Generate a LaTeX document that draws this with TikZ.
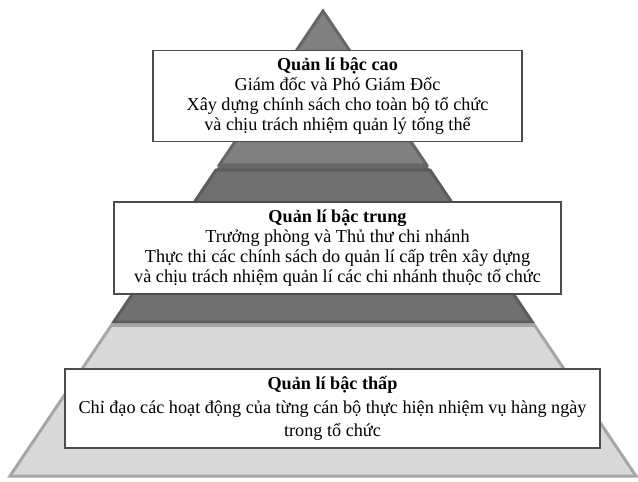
\documentclass[tikz,border=0pt]{standalone}
\usepackage{fontspec}
\setmainfont{Liberation Serif}
\usetikzlibrary{calc}
\definecolor{segtop}{HTML}{808080}
\definecolor{segtopline}{HTML}{666666}
\definecolor{segmid}{HTML}{707070}
\definecolor{segmidline}{HTML}{5C5C5C}
\definecolor{seglow}{HTML}{D9D9D9}
\definecolor{seglowline}{HTML}{A6A6A6}

\begin{document}
\begin{tikzpicture}[
  x=1pt,y=-1pt,
  font=\fontsize{18.2}{20}\selectfont,
  segment/.style={line width=3pt,line join=miter},
  level/.style={draw=black!70,fill=white,line width=1.4pt,
                align=center,inner sep=0pt}
]
\useasboundingbox (0,0) rectangle (638,482);
\coordinate (apex) at (323,11);
\coordinate (bl) at (10,476);
\coordinate (br) at (636,476);

% pyramid segments
\fill[segtopline] ($(apex)!0.320!(bl)$) -- ($(apex)!0.320!(br)$)
  -- ($(apex)!0.352!(br)$) -- ($(apex)!0.352!(bl)$) -- cycle;
\filldraw[segment,fill=segtop,draw=segtopline] (apex)
  -- ($(apex)!0.331!(br)$) -- ($(apex)!0.331!(bl)$) -- cycle;
\filldraw[segment,fill=segmid,draw=segmidline] ($(apex)!0.342!(bl)$)
  -- ($(apex)!0.342!(br)$) -- ($(apex)!0.669!(br)$)
  -- ($(apex)!0.669!(bl)$) -- cycle;
\filldraw[segment,fill=seglow,draw=seglowline] ($(apex)!0.676!(bl)$)
  -- ($(apex)!0.676!(br)$) -- (br) -- (bl) -- cycle;

% level boxes
\node[level,minimum width=369pt,minimum height=91pt] (high) at (337.5,96)
  {\textbf{Quản lí bậc cao}\\
   Giám đốc và Phó Giám Đốc\\
   Xây dựng chính sách cho toàn bộ tổ chức\\
   và chịu trách nhiệm quản lý tổng thể};
\node[level,minimum width=447pt,minimum height=92pt] (middle) at (337.5,248)
  {\textbf{Quản lí bậc trung}\\
   Trưởng phòng và Thủ thư chi nhánh\\
   Thực thi các chính sách do quản lí cấp trên xây dựng\\
   và chịu trách nhiệm quản lí các chi nhánh thuộc tổ chức};
\node[level,minimum width=535pt,minimum height=79pt,
      font=\fontsize{18.2}{23.5}\selectfont] (low) at (332.5,408.5)
  {\textbf{Quản lí bậc thấp}\\
   Chỉ đạo các hoạt động của từng cán bộ thực hiện nhiệm vụ hàng ngày\\
   trong tổ chức};
\end{tikzpicture}
\end{document}
